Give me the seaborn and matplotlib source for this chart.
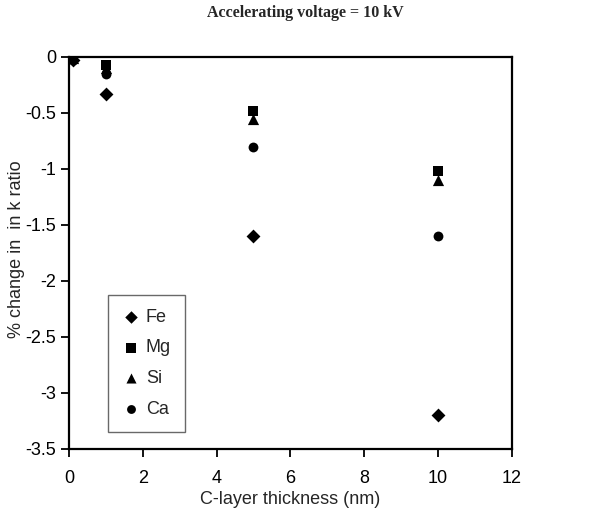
import numpy as np
import pandas as pd
import matplotlib
matplotlib.use("Agg")
import matplotlib.pyplot as plt
import seaborn as sns

# ── Data ────────────────────────────────────────────────────────────────────
thickness = [0.1, 1, 5, 10]
fe = [-0.03, -0.33, -1.60, -3.20]
mg = [0.00, -0.07, -0.48, -1.02]
si = [-0.01, -0.10, -0.55, -1.10]
ca = [-0.03, -0.15, -0.80, -1.60]
elements = ["Fe", "Mg", "Si", "Ca"]

rows = []
for name, vals in zip(elements, [fe, mg, si, ca]):
    for x, v in zip(thickness, vals):
        rows.append({"thickness": x, "change": v, "element": name})
df = pd.DataFrame(rows)

sns.set_style("ticks")
plt.rcParams["font.family"] = ["Liberation Sans", "DejaVu Sans"]

fig = plt.figure(figsize=(6.1, 5.13), dpi=100)
ax = fig.add_axes([0.113, 0.125, 0.726, 0.764])

markers = {"Fe": "D", "Mg": "s", "Si": "^", "Ca": "o"}
sizes = {"Fe": 50, "Mg": 60, "Si": 65, "Ca": 50}
for name in elements:
    sub = df[df["element"] == name]
    sns.scatterplot(data=sub, x="thickness", y="change", ax=ax,
                    marker=markers[name], s=sizes[name], color="black",
                    edgecolor="black", linewidth=0, label=name)

ax.set_xlim(0, 12)
ax.set_ylim(-3.5, 0)
ax.set_xticks(np.arange(0, 13, 2))
ax.set_yticks(np.arange(-3.5, 0.01, 0.5))
ax.set_yticklabels([f"{t:g}" for t in np.arange(-3.5, 0.01, 0.5)])
ax.tick_params(direction="out", length=6, width=1.3, labelsize=13, colors="black")
ax.tick_params(axis="x", pad=9)
ax.tick_params(axis="y", pad=3)
for sp in ax.spines.values():
    sp.set_linewidth(1.6)
    sp.set_color("black")

ax.set_xlabel("C-layer thickness (nm)", fontsize=13, labelpad=3)
ax.set_ylabel("% change in  in k ratio", fontsize=13)
ax.yaxis.set_label_coords(-0.1, 0.51)

fig.text(0.5, 0.975, "Accelerating voltage = 10 kV", ha="center", va="center",
         fontsize=11.5, fontweight="bold", family=["Liberation Serif", "DejaVu Serif"])

leg = ax.legend(loc="lower left", bbox_to_anchor=(0.088, 0.043), fontsize=13,
                frameon=True, fancybox=False, edgecolor="#444444",
                handletextpad=0.3, handlelength=1.0, labelspacing=0.75,
                borderpad=0.8, borderaxespad=0, markerscale=0.9)
leg.get_frame().set_linewidth(1.0)

fig.savefig("out.png", dpi=100)
